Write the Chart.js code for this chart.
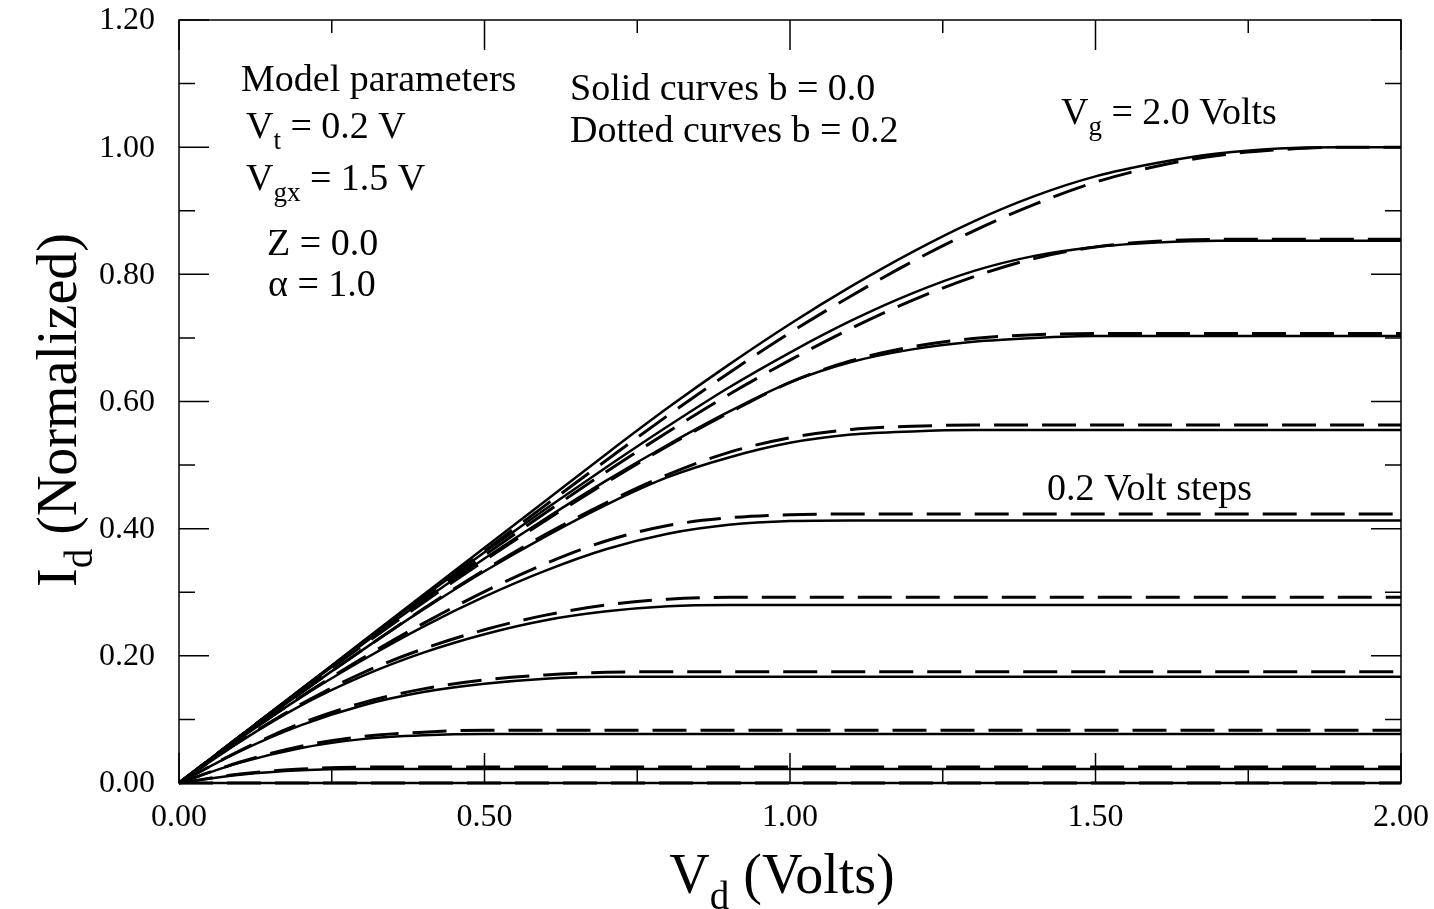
<!DOCTYPE html>
<html>
<head>
<meta charset="utf-8">
<script src="https://cdn.jsdelivr.net/npm/chart.js@4.4.1/dist/chart.umd.min.js"></script>
<style>
  html, body { margin: 0; padding: 0; background: #fff; }
</style>
</head>
<body>
<canvas id="chart" width="1434" height="909"></canvas>
<script>
// ===== DATA =====
// drain voltage samples (Volts)
const vd = [0.0, 0.1, 0.2, 0.3, 0.4, 0.5, 0.6, 0.7, 0.8, 0.9, 1.0,
            1.1, 1.2, 1.3, 1.4, 1.5, 1.6, 1.7, 1.8, 1.9, 2.0];

// solid curves, b = 0.0 (Vg = 2.0 ... 0.2 V)
const solid20 = [0, 0.074, 0.148, 0.222, 0.296, 0.370, 0.444, 0.518, 0.590, 0.658, 0.722, 0.781, 0.835, 0.883, 0.923, 0.954, 0.975, 0.990, 0.998, 1.000, 1.000];
const solid18 = [0, 0.074, 0.148, 0.221, 0.293, 0.363, 0.431, 0.497, 0.561, 0.622, 0.677, 0.727, 0.770, 0.805, 0.829, 0.843, 0.850, 0.853, 0.853, 0.853, 0.853];
const solid16 = [0, 0.074, 0.147, 0.218, 0.287, 0.353, 0.416, 0.476, 0.532, 0.584, 0.630, 0.662, 0.682, 0.694, 0.700, 0.703, 0.703, 0.703, 0.703, 0.703, 0.703];
const solid14 = [0, 0.072, 0.142, 0.209, 0.273, 0.333, 0.388, 0.438, 0.481, 0.512, 0.535, 0.548, 0.553, 0.555, 0.555, 0.555, 0.555, 0.555, 0.555, 0.555, 0.555];
const solid12 = [0, 0.070, 0.135, 0.193, 0.246, 0.293, 0.334, 0.368, 0.392, 0.406, 0.412, 0.413, 0.413, 0.413, 0.413, 0.413, 0.413, 0.413, 0.413, 0.413, 0.413];
const solid10 = [0, 0.065, 0.122, 0.168, 0.205, 0.234, 0.256, 0.270, 0.278, 0.280, 0.280, 0.280, 0.280, 0.280, 0.280, 0.280, 0.280, 0.280, 0.280, 0.280, 0.280];
const solid08 = [0, 0.050, 0.091, 0.122, 0.143, 0.156, 0.164, 0.167, 0.167, 0.167, 0.167, 0.167, 0.167, 0.167, 0.167, 0.167, 0.167, 0.167, 0.167, 0.167, 0.167];
const solid06 = [0, 0.032, 0.055, 0.069, 0.075, 0.077, 0.077, 0.077, 0.077, 0.077, 0.077, 0.077, 0.077, 0.077, 0.077, 0.077, 0.077, 0.077, 0.077, 0.077, 0.077];
const solid04 = [0, 0.013, 0.020, 0.022, 0.022, 0.022, 0.022, 0.022, 0.022, 0.022, 0.022, 0.022, 0.022, 0.022, 0.022, 0.022, 0.022, 0.022, 0.022, 0.022, 0.022];
const solid02 = [0, 0, 0, 0, 0, 0, 0, 0, 0, 0, 0, 0, 0, 0, 0, 0, 0, 0, 0, 0, 0];

// dotted (dashed) curves, b = 0.2
const dotted20 = [0, 0.074, 0.147, 0.220, 0.293, 0.365, 0.437, 0.508, 0.578, 0.645, 0.708, 0.766, 0.820, 0.868, 0.910, 0.945, 0.970, 0.987, 0.996, 1.000, 1.000];
const dotted18 = [0, 0.073, 0.146, 0.218, 0.289, 0.358, 0.425, 0.490, 0.552, 0.611, 0.665, 0.715, 0.759, 0.796, 0.825, 0.843, 0.852, 0.855, 0.855, 0.855, 0.855];
const dotted16 = [0, 0.073, 0.146, 0.216, 0.284, 0.350, 0.413, 0.473, 0.530, 0.582, 0.630, 0.664, 0.686, 0.699, 0.705, 0.707, 0.707, 0.707, 0.707, 0.707, 0.707];
const dotted14 = [0, 0.072, 0.142, 0.209, 0.274, 0.335, 0.391, 0.441, 0.485, 0.520, 0.543, 0.556, 0.561, 0.563, 0.563, 0.563, 0.563, 0.563, 0.563, 0.563, 0.563];
const dotted12 = [0, 0.070, 0.136, 0.196, 0.251, 0.301, 0.345, 0.381, 0.405, 0.417, 0.422, 0.423, 0.423, 0.423, 0.423, 0.423, 0.423, 0.423, 0.423, 0.423, 0.423];
const dotted10 = [0, 0.066, 0.124, 0.173, 0.211, 0.241, 0.264, 0.280, 0.289, 0.292, 0.292, 0.292, 0.292, 0.292, 0.292, 0.292, 0.292, 0.292, 0.292, 0.292, 0.292];
const dotted08 = [0, 0.051, 0.094, 0.126, 0.148, 0.162, 0.170, 0.174, 0.175, 0.175, 0.175, 0.175, 0.175, 0.175, 0.175, 0.175, 0.175, 0.175, 0.175, 0.175, 0.175];
const dotted06 = [0, 0.033, 0.058, 0.073, 0.080, 0.083, 0.083, 0.083, 0.083, 0.083, 0.083, 0.083, 0.083, 0.083, 0.083, 0.083, 0.083, 0.083, 0.083, 0.083, 0.083];
const dotted04 = [0, 0.014, 0.022, 0.025, 0.025, 0.025, 0.025, 0.025, 0.025, 0.025, 0.025, 0.025, 0.025, 0.025, 0.025, 0.025, 0.025, 0.025, 0.025, 0.025, 0.025];
const dotted02 = [0, 0, 0, 0, 0, 0, 0, 0, 0, 0, 0, 0, 0, 0, 0, 0, 0, 0, 0, 0, 0];

const gateLabels = ['2.0', '1.8', '1.6', '1.4', '1.2', '1.0', '0.8', '0.6', '0.4', '0.2'];
const solidCurves = [solid20, solid18, solid16, solid14, solid12, solid10, solid08, solid06, solid04, solid02];
const dottedCurves = [dotted20, dotted18, dotted16, dotted14, dotted12, dotted10, dotted08, dotted06, dotted04, dotted02];

// axis ranges and tick steps
const xRange = [0, 2.0];
const xStep = 0.5;
const yRange = [0, 1.2];
const yStep = 0.2;

// ===== HELPERS =====
const SERIF = "'Liberation Serif', 'Times New Roman', serif";

function toPoints(values) {
    return vd.map((x, i) => ({ x: x, y: values[i] }));
}

// draws text pieces on one baseline, pieces marked sub are smaller and lowered
function drawRich(ctx, parts, x, y, size, align) {
    const subSize = Math.round(size * 0.7);
    let total = 0;
    parts.forEach(p => {
        ctx.font = (p.sub ? subSize : size) + 'px ' + SERIF;
        total += ctx.measureText(p.t).width;
    });
    let cx = align === 'center' ? x - total / 2 : x;
    ctx.textAlign = 'left';
    ctx.textBaseline = 'alphabetic';
    parts.forEach(p => {
        ctx.font = (p.sub ? subSize : size) + 'px ' + SERIF;
        ctx.fillText(p.t, cx, p.sub ? y + size * 0.28 : y);
        cx += ctx.measureText(p.t).width;
    });
}

// ===== PLUGIN: frame, inward ticks, tick labels, titles and notes =====
const framePlugin = {
    id: 'frame',
    afterDraw(chart) {
        const ctx = chart.ctx;
        const a = chart.chartArea;
        const xs = chart.scales.x;
        const ys = chart.scales.y;

        ctx.save();
        ctx.strokeStyle = '#000';
        ctx.lineWidth = 1.5;
        ctx.strokeRect(a.left, a.top, a.right - a.left, a.bottom - a.top);

        const major = 30, minor = 13;
        ctx.beginPath();
        xs.ticks.forEach((t, i) => {
            const px = xs.getPixelForValue(t.value);
            ctx.moveTo(px, a.bottom); ctx.lineTo(px, a.bottom - major);
            ctx.moveTo(px, a.top); ctx.lineTo(px, a.top + major);
            if (i < xs.ticks.length - 1) {
                const mx = xs.getPixelForValue(t.value + xStep / 2);
                ctx.moveTo(mx, a.bottom); ctx.lineTo(mx, a.bottom - minor);
                ctx.moveTo(mx, a.top); ctx.lineTo(mx, a.top + minor);
            }
        });
        ys.ticks.forEach((t, i) => {
            const py = ys.getPixelForValue(t.value);
            ctx.moveTo(a.left, py); ctx.lineTo(a.left + major, py);
            ctx.moveTo(a.right, py); ctx.lineTo(a.right - major, py);
            if (i < ys.ticks.length - 1) {
                const my = ys.getPixelForValue(t.value + yStep / 2);
                ctx.moveTo(a.left, my); ctx.lineTo(a.left + 16, my);
                ctx.moveTo(a.right, my); ctx.lineTo(a.right - 16, my);
            }
        });
        ctx.stroke();

        ctx.fillStyle = '#000';

        // tick labels
        ctx.font = '32px ' + SERIF;
        ctx.textBaseline = 'middle';
        ctx.textAlign = 'center';
        xs.ticks.forEach(t => {
            ctx.fillText(t.value.toFixed(2), xs.getPixelForValue(t.value), a.bottom + 35);
        });
        ctx.textAlign = 'right';
        ys.ticks.forEach(t => {
            ctx.fillText(t.value.toFixed(2), a.left - 24, ys.getPixelForValue(t.value) + 1);
        });

        // axis titles
        drawRich(ctx, [{ t: 'V' }, { t: 'd', sub: true }, { t: ' (Volts)' }], 782, 893, 56, 'center');
        ctx.save();
        ctx.translate(76, 410);
        ctx.rotate(-Math.PI / 2);
        drawRich(ctx, [{ t: 'I' }, { t: 'd', sub: true }, { t: ' (Normalized)' }], 0, 0, 56, 'center');
        ctx.restore();

        // notes inside the plot
        const s = 38;
        drawRich(ctx, [{ t: 'Model parameters' }], 241, 91, s);
        drawRich(ctx, [{ t: 'V' }, { t: 't', sub: true }, { t: ' = 0.2 V' }], 246, 138, s);
        drawRich(ctx, [{ t: 'V' }, { t: 'gx', sub: true }, { t: ' = 1.5 V' }], 246, 190, s);
        drawRich(ctx, [{ t: 'Z = 0.0' }], 267, 255, s);
        drawRich(ctx, [{ t: '\u03b1 = 1.0' }], 268, 296, s);
        drawRich(ctx, [{ t: 'Solid curves b = 0.0' }], 570, 100, s);
        drawRich(ctx, [{ t: 'Dotted curves b = 0.2' }], 570, 142, s);
        drawRich(ctx, [{ t: 'V' }, { t: 'g', sub: true }, { t: ' = 2.0 Volts' }], 1061, 124, s);
        drawRich(ctx, [{ t: '0.2 Volt steps' }], 1047, 500, s);

        ctx.restore();
    }
};

// ===== DATASETS =====
const datasets = [];
solidCurves.forEach((vals, i) => {
    datasets.push({
        label: 'Vg = ' + gateLabels[i] + ' V, b = 0.0',
        data: toPoints(vals),
        borderColor: '#000',
        borderWidth: 2.5,
        pointRadius: 0,
        cubicInterpolationMode: 'monotone',
        clip: 4
    });
});
dottedCurves.forEach((vals, i) => {
    datasets.push({
        label: 'Vg = ' + gateLabels[i] + ' V, b = 0.2',
        data: toPoints(vals),
        borderColor: '#000',
        borderWidth: 3,
        borderDash: [34, 14],
        pointRadius: 0,
        cubicInterpolationMode: 'monotone',
        clip: 4
    });
});

// ===== CHART =====
new Chart(document.getElementById('chart'), {
    type: 'line',
    data: { datasets: datasets },
    options: {
        responsive: false,
        animation: false,
        devicePixelRatio: 1,
        layout: { padding: { left: 0, top: 20, right: 33, bottom: 0 } },
        plugins: {
            legend: { display: false },
            tooltip: { enabled: false }
        },
        scales: {
            x: {
                type: 'linear',
                min: xRange[0],
                max: xRange[1],
                grid: { display: false, drawTicks: false },
                border: { display: false },
                ticks: { display: false, stepSize: xStep },
                afterFit: scale => { scale.height = 126; }
            },
            y: {
                type: 'linear',
                min: yRange[0],
                max: yRange[1],
                grid: { display: false, drawTicks: false },
                border: { display: false },
                ticks: { display: false, stepSize: yStep },
                afterFit: scale => { scale.width = 179; }
            }
        }
    },
    plugins: [framePlugin]
});
</script>
</body>
</html>
